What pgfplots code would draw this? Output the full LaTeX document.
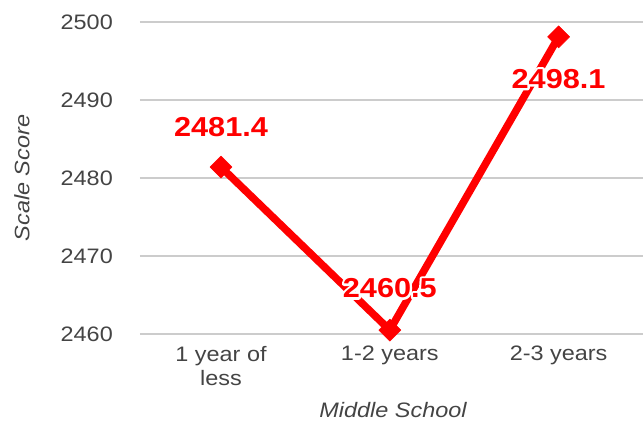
\documentclass[border=0pt]{standalone}
\usepackage{fontspec}
\setmainfont{Liberation Sans}[FakeStretch=1.12]
\usepackage{pgfplots}
\pgfplotsset{compat=1.18}
\usepackage{pgfplotstable}
\definecolor{ChartRed}{RGB}{255,0,0}
\definecolor{TickGray}{RGB}{68,68,68}
\definecolor{GridGray}{RGB}{204,204,204}

% white stroked copy under the text, as a halo
\newcommand\halo[1]{\leavevmode\rlap{\special{pdf:literal direct 1 Tr 4.5 w 1 1 1 RG 1 j}#1\special{pdf:literal direct 0 Tr}}#1}

% x = category index, dy = label offset above (+) or below (-) the point
\pgfplotstableread{
x y label dy
0 2481.4 2481.4 40
1 2460.5 2460.5 42
2 2498.1 2498.1 -42
}\scores

\begin{document}
\begin{tikzpicture}
\begin{axis}[
  name=ax,
  scale only axis, width=503bp, height=312bp,
  xmin=-0.48, xmax=2.5, ymin=2460, ymax=2500,
  xtick={0,1,2},
  xticklabels={{1 year of\\less},{1-2 years},{2-3 years}},
  ytick={2460,2470,...,2500},
  ymajorgrids, grid style={GridGray, line width=1.3bp},
  axis line style={draw=none}, major tick length=0pt,
  tick label style={font=\fontsize{21}{24}\selectfont, text=TickGray},
  xticklabel style={align=center, inner sep=0pt, yshift=-12bp},
  yticklabel style={inner sep=0pt, xshift=-27bp},
  /pgf/number format/assume math mode=true,
  /pgf/number format/1000 sep={},
  xlabel={Middle School}, ylabel={Scale Score},
  every axis y label/.style={at={(axis description cs:-0.2346,0.5)}, rotate=90, anchor=center,
    font=\fontsize{21}{24}\selectfont\itshape, text=TickGray},
  every axis x label/.style={at={(axis description cs:0.503,-0.2436)}, anchor=center,
    font=\fontsize{21}{24}\selectfont\itshape, text=TickGray},
  clip=false,
]
\addplot[ChartRed, line width=7.5bp, line join=round,
  mark=square*, mark size=7.8bp, mark options={rotate=45, solid, line width=0.5bp},
  point meta=explicit symbolic,
  visualization depends on={\thisrow{dy} \as \dy},
  nodes near coords={\halo{\pgfplotspointmeta}},
  nodes near coords style={anchor=center, yshift=\dy bp,
    font=\bfseries\fontsize{27.5}{29}\selectfont, text=ChartRed}]
  table[x=x, y=y, meta=label] {\scores};
\end{axis}
\pgfresetboundingbox
\path[use as bounding box] ([xshift=-140bp,yshift=-90bp]ax.south west) rectangle ([yshift=22bp]ax.north east);
\end{tikzpicture}
\end{document}
